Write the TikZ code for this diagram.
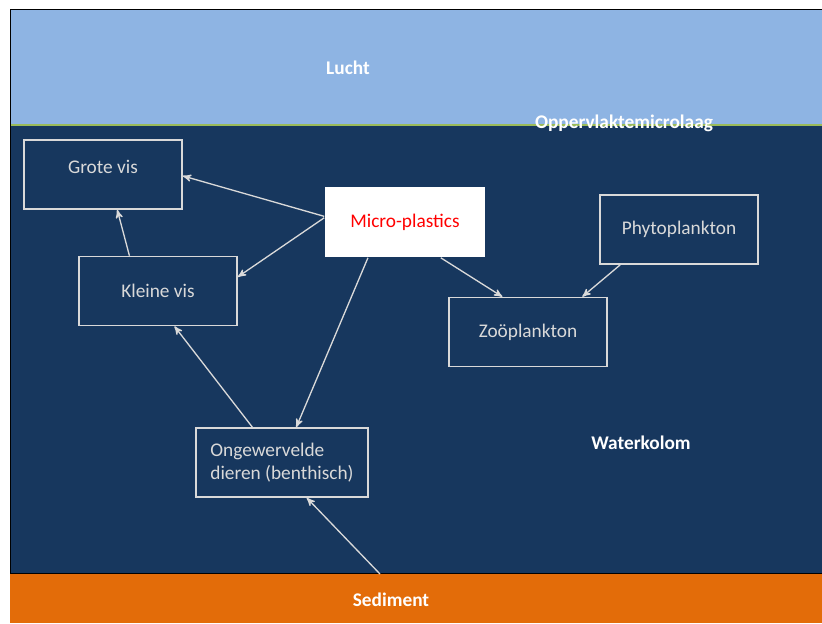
\documentclass[tikz,border=0pt]{standalone}
\usepackage{fontspec}
\setmainfont{Carlito}
\usepackage{tikz}
\usetikzlibrary{shapes,arrows,positioning,calc}
\definecolor{lucht}{HTML}{8EB4E3}
\definecolor{water}{HTML}{17375E}
\definecolor{sediment}{HTML}{E36C09}
\definecolor{microlaag}{HTML}{9BBB59}
\definecolor{lijn}{HTML}{D9D9D9}

\begin{document}
\begin{tikzpicture}[
    x=0.02cm, y=-0.02cm,
    box/.style={rectangle, draw=lijn, line width=0.9pt, minimum width=3.16cm, minimum height=1.38cm, align=center, text=lijn, font=\fontsize{11}{13}\selectfont},
    zone/.style={text=white, font=\fontsize{11}{13}\selectfont\bfseries},
    pijl/.style={->, >=stealth', draw=lijn, line width=0.75pt}
]
    \useasboundingbox (0,0) rectangle (822,623);
    \fill[lucht] (10,9) rectangle (822,125);
    \fill[water] (10,125) rectangle (822,574);
    \fill[sediment] (10,574) rectangle (822,623);
    \draw[microlaag, line width=1.2pt] (10,125) -- (822,125);
    \draw[black, line width=0.9pt] (822,9.5) -- (10.5,9.5) -- (10.5,573.5) -- (822,573.5);

    \node[zone] (lucht) at (348,68) {Lucht};
    \node[zone] (laag) at (624,123) {Oppervlaktemicrolaag};
    \node[zone] (kolom) at (641,443) {Waterkolom};
    \node[zone] (sed) at (391,600) {Sediment};
    \coordinate (sedtop) at (380,574);

    \node[box, text depth=0.3cm] (grote) at (103,174.5) {Grote vis};
    \node[box] (kleine) at (158,291) {Kleine vis};
    \node[box, draw=none, fill=white, text=red, minimum width=3.2cm, minimum height=1.4cm] (micro) at (405,222) {Micro-plastics};
    \node[box] (phyto) at (679,229.5) {Phytoplankton};
    \node[box] (zoo) at (528,332) {Zoöplankton};
    \node[box, minimum width=3.44cm, align=left] (onge) at (282,462.5) {Ongewervelde\\dieren (benthisch)};

    \draw[pijl] (micro.176) -- (grote.-1);
    \draw[pijl] (micro.177) -- (kleine.10);
    \draw[pijl] (micro.-136) -- (onge.68);
    \draw[pijl] (micro.-45) -- (zoo.126);
    \draw[pijl] (phyto.-149) -- (zoo.33);
    \draw[pijl] (kleine.129) -- (grote.-68);
    \draw[pijl] (onge.130) -- (kleine.-65);
    \draw[pijl] (sedtop) -- (onge.-55);
\end{tikzpicture}
\end{document}
